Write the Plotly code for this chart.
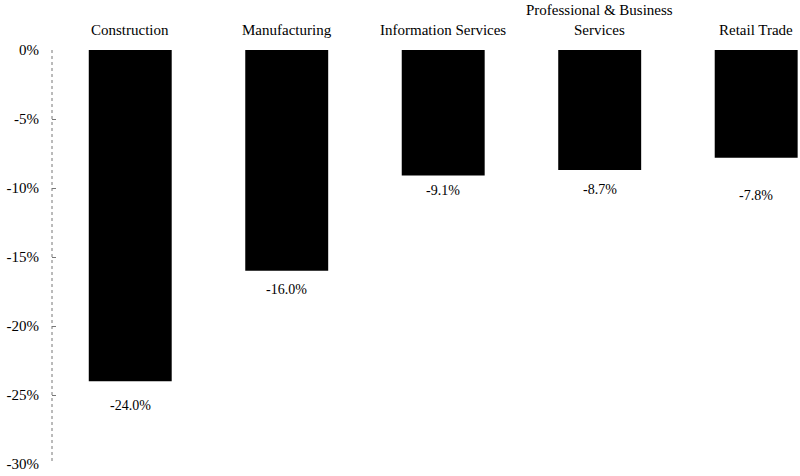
import plotly.graph_objects as go

# Job losses by sector, percent change
sectors = ["Construction", "Manufacturing", "Information Services",
           "Professional & Business<br>Services", "Retail Trade"]
changes = [-24.0, -16.0, -9.1, -8.7, -7.8]
tick_vals = [0, -5, -10, -15, -20, -25, -30]
tick_text = ["0%", "-5%", "-10%", "-15%", "-20%", "-25%", "-30%"]

# vertical distance (px) of each value label below its bar end
label_gap = [24, 19, 15, 19, 38]

FONT = "Liberation Serif"

fig = go.Figure()
fig.add_trace(go.Bar(
    x=list(range(len(sectors))),
    y=changes,
    width=0.53,
    marker=dict(color="#000000", line=dict(width=0)),
    hoverinfo="skip",
))

# value labels under each bar
for i, (v, g) in enumerate(zip(changes, label_gap)):
    fig.add_annotation(x=i, y=v, text=f"{v:.1f}%", showarrow=False,
                       yanchor="middle", yshift=-g,
                       font=dict(family=FONT, size=14, color="#000"))

# sector names above the plot
for i, s in enumerate(sectors):
    fig.add_annotation(x=i, y=0, text=s, showarrow=False,
                       yanchor="bottom", yshift=10,
                       font=dict(family=FONT, size=15, color="#000"))

# dashed vertical axis line
fig.add_shape(type="line", xref="paper", yref="y", x0=0, x1=0, y0=0, y1=-30,
              line=dict(color="#777", width=1, dash="dot"))

fig.update_layout(
    width=800, height=476,
    margin=dict(l=52, r=0, t=50, b=12),
    paper_bgcolor="white", plot_bgcolor="white",
    showlegend=False,
    font=dict(family=FONT, size=15, color="#000"),
    xaxis=dict(range=[-0.5, 4.28], showticklabels=False, showgrid=False,
               zeroline=False, showline=False, ticks=""),
    yaxis=dict(range=[-30, 0], tickvals=tick_vals, ticktext=tick_text,
               showgrid=False, zeroline=False, showline=False,
               ticks="inside", ticklen=4, tickcolor="#777",
               ticklabelstandoff=12, tickfont=dict(family=FONT, size=15)),
)

fig.write_html("out.html")
